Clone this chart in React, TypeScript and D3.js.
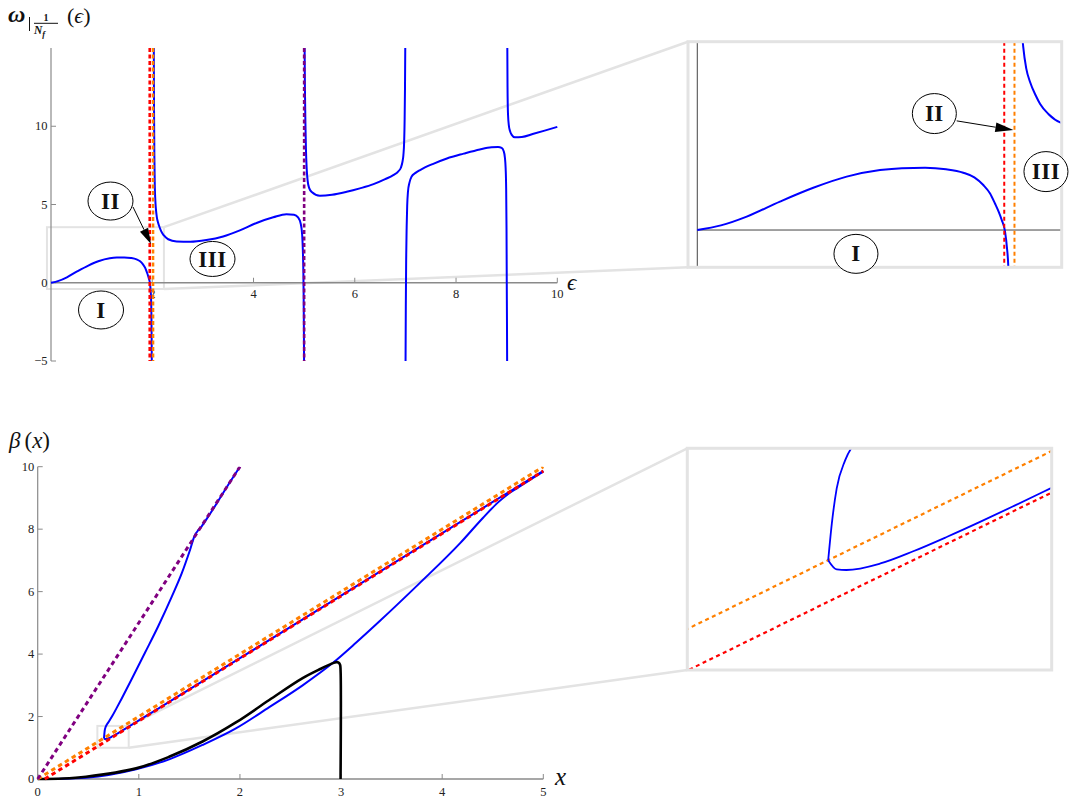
import React from 'react';
import * as d3 from 'd3';

type Pt = [number, number];

// ω(ε) sampled along each branch, split at the poles
const omegaBranch1: Pt[] = [
  [0, 0], [0.15, 0.12], [0.314, 0.35], [0.525, 0.74], [0.737, 1.1], [0.949, 1.39],
  [1.161, 1.56], [1.3, 1.61], [1.447, 1.62], [1.58, 1.58], [1.69, 1.49], [1.76, 1.37],
  [1.817, 1.17], [1.86, 0.95], [1.891, 0.69], [1.915, 0.47], [1.934, 0.26], [1.955, -0.04],
  [1.967, -0.45], [1.976, -0.97], [1.983, -2.0], [1.988, -3.5], [1.992, -5.5],
];
const omegaBranch2: Pt[] = [
  [2.03, 15.5], [2.035, 11], [2.042, 8], [2.05, 6.2], [2.06, 5.3], [2.071, 4.75], [2.09, 4.2],
  [2.114, 3.85], [2.15, 3.5], [2.178, 3.28], [2.23, 3.02], [2.315, 2.78], [2.48, 2.64],
  [2.75, 2.62], [3.07, 2.73], [3.4, 2.96], [3.73, 3.35], [4.06, 3.82], [4.39, 4.18],
  [4.65, 4.38], [4.8, 4.35], [4.88, 4.18], [4.93, 3.8], [4.96, 3.1], [4.975, 2.0],
  [4.985, 0.6], [4.99, -0.8], [4.995, -3], [4.999, -5.5],
];
const omegaBranch3: Pt[] = [
  [5.008, 15.5], [5.015, 12.5], [5.025, 10.2], [5.035, 8.6], [5.05, 7.3], [5.07, 6.5],
  [5.1, 6.05], [5.15, 5.8], [5.31, 5.56], [5.55, 5.62], [5.84, 5.81], [6.1, 6.03],
  [6.37, 6.3], [6.6, 6.62], [6.76, 6.88], [6.86, 7.12], [6.91, 7.35], [6.94, 7.7],
  [6.96, 8.15], [6.975, 9.0], [6.985, 10.5], [6.992, 12.5], [6.998, 15.5],
];
const omegaBranch4: Pt[] = [
  [7.002, -5.5], [7.008, -1.5], [7.015, 1.5], [7.025, 3.6], [7.035, 4.9], [7.05, 5.8],
  [7.08, 6.4], [7.12, 6.77], [7.2, 7.02], [7.29, 7.2], [7.55, 7.6], [7.82, 7.94],
  [8.15, 8.25], [8.47, 8.52], [8.7, 8.66], [8.83, 8.68], [8.9, 8.62], [8.94, 8.42],
  [8.965, 8.0], [8.98, 7.3], [8.99, 6.0], [8.997, 3.5], [9.002, 0], [9.006, -2.5], [9.01, -5.5],
];
const omegaBranch5: Pt[] = [
  [9.012, 15.5], [9.017, 12.5], [9.026, 10.8], [9.045, 10.0], [9.066, 9.7], [9.1, 9.45],
  [9.16, 9.3], [9.3, 9.32], [9.53, 9.52], [9.75, 9.72], [10.0, 9.96],
];
const omegaBranches: Pt[][] = [omegaBranch1, omegaBranch2, omegaBranch3, omegaBranch4, omegaBranch5];

// vertical asymptotes in ε (red, orange, purple)
const epsAsymptotes: number[] = [1.95, 2.015, 5.0];

const epsTicks: number[] = [2, 4, 6, 8, 10];
const omegaTicks: number[] = [-5, 0, 5, 10];

// β(x): branches of the solution
const betaUpper: Pt[] = [
  [0.656, 1.312], [0.659, 1.436], [0.663, 1.554], [0.67, 1.649], [0.68, 1.72],
  [0.70, 1.82], [0.74, 2.03], [0.78, 2.27], [0.831, 2.58], [0.93, 3.2], [1.062, 4.05],
  [1.193, 4.9], [1.326, 5.84], [1.425, 6.59], [1.507, 7.34], [1.556, 7.82], [1.575, 7.91],
  [1.623, 8.1], [1.7, 8.47], [1.8, 8.98], [1.9, 9.5], [2.0, 10.0],
];
const betaLower: Pt[] = [
  [0.656, 1.312], [0.663, 1.281], [0.671, 1.279], [0.699, 1.301], [0.726, 1.342],
  [0.754, 1.391], [0.781, 1.441], [0.809, 1.495], [0.839, 1.554], [0.9, 1.675],
  [1.0, 1.874], [1.2, 2.272], [1.5, 2.871], [2.0, 3.87], [3.0, 5.87], [4.0, 7.87], [5.0, 9.87],
];
const betaRising: Pt[] = [
  [0, 0], [0.25, 0.008], [0.478, 0.04], [0.973, 0.31], [1.3, 0.63], [1.63, 1.09], [1.96, 1.62],
  [2.29, 2.3], [2.62, 3.0], [2.92, 3.72], [3.15, 4.37], [3.38, 5.05], [3.78, 6.28],
  [4.18, 7.56], [4.4, 8.35], [4.55, 8.85], [4.65, 9.12], [4.75, 9.33], [4.85, 9.54], [5.0, 9.84],
];
const betaBlack: Pt[] = [
  [0, 0], [0.25, 0.015], [0.478, 0.074], [0.973, 0.34], [1.3, 0.71], [1.63, 1.2], [1.96, 1.81],
  [2.29, 2.53], [2.62, 3.23], [2.8, 3.53], [2.92, 3.71], [2.95, 3.74], [2.975, 3.73],
  [2.99, 3.66], [2.995, 3.5], [2.995, 0],
];
const purpleLine: Pt[] = [[0, 0], [2, 10]];
const orangeLine: Pt[] = [[0, 0], [5, 10]];
const redLine: Pt[] = [[0.07, 0], [5, 9.86]];

const xTicks: number[] = [0, 1, 2, 3, 4, 5];
const betaTicks: number[] = [0, 2, 4, 6, 8, 10];

// zoom windows (data units)
const topZoomEps: number[] = [-0.08, 2.23];
const topZoomOmega: number[] = [-0.4, 3.55];
const botZoomX: number[] = [0.59, 0.9];
const botZoomBeta: number[] = [1.0, 1.7];

const SERIF = 'Liberation Serif, DejaVu Serif, serif';
const BLUE = '#0000ff';
const RED = '#ff0000';
const ORANGE = '#ff8000';
const PURPLE = '#800080';
const AXIS = '#8a8a8a';
const FRAME = '#e3e3e3';
const asymptoteColors = [RED, ORANGE, PURPLE];

function Arrow({ x1, y1, x2, y2, len = 16, half = 4.5 }: { x1: number; y1: number; x2: number; y2: number; len?: number; half?: number }) {
  const a = Math.atan2(y2 - y1, x2 - x1);
  const bx = x2 - len * Math.cos(a);
  const by = y2 - len * Math.sin(a);
  const px = -Math.sin(a) * half;
  const py = Math.cos(a) * half;
  return (
    <g>
      <line x1={x1} y1={y1} x2={bx} y2={by} stroke="#000" strokeWidth={1} />
      <polygon points={`${x2},${y2} ${bx + px},${by + py} ${bx - px},${by - py}`} fill="#000" />
    </g>
  );
}

function Badge({ cx, cy, label, rx = 22.5, ry = 19 }: { cx: number; cy: number; label: string; rx?: number; ry?: number }) {
  return (
    <g>
      <ellipse cx={cx} cy={cy} rx={rx} ry={ry} fill="#fff" stroke="#000" strokeWidth={1} />
      <text x={cx} y={cy + 7.6} textAnchor="middle" fontFamily={SERIF} fontWeight="bold" fontSize={23} letterSpacing={0.5} fill="#111">
        {label}
      </text>
    </g>
  );
}

export default function App() {
  const topX = d3.scaleLinear().domain([0, 10]).range([51, 557.3]);
  const topY = d3.scaleLinear().domain([-5, 15]).range([361, 48]);
  const tiX = d3.scaleLinear().domain([-0.059, 2.315]).range([688, 1061.7]);
  const tiY = d3.scaleLinear().domain([-0.97, 4.9]).range([267.3, 41.7]);
  const bX = d3.scaleLinear().domain([0, 5]).range([37.7, 543.3]);
  const bY = d3.scaleLinear().domain([0, 10]).range([779, 466.7]);
  const biX = d3.scaleLinear().domain([0.54, 0.84]).range([687.3, 1051.7]);
  const biY = d3.scaleLinear().domain([0.942, 1.689]).range([670, 448.3]);

  const mk = (sx: d3.ScaleLinear<number, number>, sy: d3.ScaleLinear<number, number>, curve: d3.CurveFactory) =>
    d3.line<Pt>().x((d) => sx(d[0])).y((d) => sy(d[1])).curve(curve);

  const topLine = mk(topX, topY, d3.curveMonotoneX);
  const tiLine = mk(tiX, tiY, d3.curveMonotoneX);
  const bLine = mk(bX, bY, d3.curveMonotoneX);
  const bLin = mk(bX, bY, d3.curveLinear);
  const bBlack = mk(bX, bY, d3.curveCatmullRom.alpha(0.5));
  const biLine = mk(biX, biY, d3.curveMonotoneX);
  const biLin = mk(biX, biY, d3.curveLinear);

  const [tiX0, tiX1] = tiX.range();
  const [tiY0, tiY1] = tiY.range();
  const [biX0, biX1] = biX.range();
  const [biY0, biY1] = biY.range();

  const tickFont = { fontFamily: SERIF, fontSize: 12.5, fill: '#222' } as const;

  // zoom rectangles in pixel space
  const tzx0 = topX(topZoomEps[0]), tzx1 = topX(topZoomEps[1]);
  const tzy0 = topY(topZoomOmega[1]), tzy1 = topY(topZoomOmega[0]);
  const bzx0 = bX(botZoomX[0]), bzx1 = bX(botZoomX[1]);
  const bzy0 = bY(botZoomBeta[1]), bzy1 = bY(botZoomBeta[0]);

  return (
    <svg width={1070} height={800} style={{ position: 'absolute', left: 0, top: 0, background: '#fff' }}>
      <defs>
        <clipPath id="clipTop"><rect x={45} y={topY(15)} width={topX(10) - 45 + 2} height={topY(-5) - topY(15)} /></clipPath>
        <clipPath id="clipTopInset"><rect x={tiX0} y={tiY1} width={tiX1 - tiX0} height={tiY0 - tiY1} /></clipPath>
        <clipPath id="clipBot"><rect x={30} y={bY(10)} width={bX(5) - 30 + 2} height={bY(0) - bY(10) + 2} /></clipPath>
        <clipPath id="clipBotInset"><rect x={biX0} y={biY1} width={biX1 - biX0} height={biY0 - biY1} /></clipPath>
      </defs>

      {/* ================= top panel: ω(ε) ================= */}
      {/* zoom connectors */}
      <line x1={tzx1} y1={tzy0} x2={tiX0} y2={tiY1} stroke={FRAME} strokeWidth={2.5} />
      <line x1={tzx1} y1={tzy1} x2={tiX0} y2={tiY0} stroke={FRAME} strokeWidth={2.5} />
      <rect x={tzx0} y={tzy0} width={tzx1 - tzx0} height={tzy1 - tzy0} fill="none" stroke={FRAME} strokeWidth={2} />

      {/* axes */}
      <line x1={topX(0)} y1={topY(15)} x2={topX(0)} y2={topY(-5)} stroke={AXIS} strokeWidth={1.2} />
      <line x1={topX(0)} y1={topY(0)} x2={topX(10)} y2={topY(0)} stroke={AXIS} strokeWidth={1.5} />
      {omegaTicks.map((t) => (
        <g key={`oy${t}`}>
          <line x1={topX(0)} y1={topY(t)} x2={topX(0) + 5} y2={topY(t)} stroke={AXIS} strokeWidth={1} />
          <text x={topX(0) - 3.5} y={topY(t) + 4.2} textAnchor="end" {...tickFont}>{t < 0 ? `\u2212${-t}` : t}</text>
        </g>
      ))}
      {epsTicks.map((t) => (
        <g key={`ex${t}`}>
          <line x1={topX(t)} y1={topY(0)} x2={topX(t)} y2={topY(0) - 5} stroke={AXIS} strokeWidth={1} />
          <text x={topX(t)} y={topY(0) + 15.5} textAnchor="middle" {...tickFont}>{t}</text>
        </g>
      ))}

      <g clipPath="url(#clipTop)">
        {omegaBranches.map((b, i) => (
          <path key={`ob${i}`} d={topLine(b) ?? ''} fill="none" stroke={BLUE} strokeWidth={2} />
        ))}
        {epsAsymptotes.map((e, i) => (
          <line key={`as${i}`} x1={topX(e)} y1={topY(15)} x2={topX(e)} y2={topY(-5)} stroke={asymptoteColors[i]} strokeWidth={2.6} strokeDasharray="4 2.5" />
        ))}
      </g>

      {/* axis titles */}
      <text x={8} y={22} fontFamily={SERIF} fontSize={24} fontWeight="bold" fontStyle="italic" fill="#111">ω</text>
      <line x1={29.5} y1={17} x2={29.5} y2={31} stroke="#111" strokeWidth={1} />
      <text x={46} y={21} textAnchor="middle" fontFamily={SERIF} fontSize={10} fontWeight="bold" fill="#111">1</text>
      <line x1={34} y1={23.3} x2={58} y2={23.3} stroke="#111" strokeWidth={1} />
      <text x={34} y={34} fontFamily={SERIF} fontSize={11.5} fontWeight="bold" fontStyle="italic" fill="#111">
        N<tspan fontSize={8.5} dy={2.5}>f</tspan>
      </text>
      <text x={67} y={23} fontFamily={SERIF} fontSize={22} fill="#111">
        (<tspan fontStyle="italic">ϵ</tspan>)
      </text>
      <text x={567} y={290} fontFamily={SERIF} fontSize={23} fontStyle="italic" fill="#111">ϵ</text>

      {/* annotations */}
      <Badge cx={topX(1.175)} cy={topY(5.22)} label="II" />
      <Arrow x1={topX(1.62)} y1={topY(4.84)} x2={topX(1.975)} y2={topY(2.47)} />
      <Badge cx={topX(3.19)} cy={topY(1.52)} label="III" ry={17.5} />
      <Badge cx={topX(0.988)} cy={topY(-1.74)} label="I" />

      {/* ---- top inset ---- */}
      <line x1={tiX(0)} y1={tiY1} x2={tiX(0)} y2={tiY0} stroke="#444" strokeWidth={1} />
      <line x1={tiX(0)} y1={tiY(0)} x2={tiX1} y2={tiY(0)} stroke="#444" strokeWidth={1} />
      <g clipPath="url(#clipTopInset)">
        {omegaBranches.map((b, i) => (
          <path key={`tib${i}`} d={tiLine(b) ?? ''} fill="none" stroke={BLUE} strokeWidth={2} />
        ))}
        {epsAsymptotes.map((e, i) => (
          <line key={`tia${i}`} x1={tiX(e)} y1={tiY1} x2={tiX(e)} y2={tiY0} stroke={asymptoteColors[i]} strokeWidth={2} strokeDasharray="4 3" />
        ))}
      </g>
      <rect x={tiX0} y={tiY1} width={tiX1 - tiX0} height={tiY0 - tiY1} fill="none" stroke={FRAME} strokeWidth={3} />
      <Badge cx={tiX(1.506)} cy={tiY(3.03)} label="II" rx={22} ry={20} />
      <Arrow x1={tiX(1.648)} y1={tiY(2.84)} x2={tiX(2.008)} y2={tiY(2.6)} len={18} half={4.8} />
      <Badge cx={tiX(2.215)} cy={tiY(1.52)} label="III" rx={22} ry={20} />
      <Badge cx={tiX(1.008)} cy={tiY(-0.62)} label="I" rx={22} ry={19.5} />

      {/* ================= bottom panel: β(x) ================= */}
      <line x1={bzx1} y1={bzy0} x2={biX0} y2={biY1} stroke={FRAME} strokeWidth={2.5} />
      <line x1={bzx1} y1={bzy1} x2={biX0} y2={biY0} stroke={FRAME} strokeWidth={2.5} />
      <rect x={bzx0} y={bzy0} width={bzx1 - bzx0} height={bzy1 - bzy0} fill="none" stroke={FRAME} strokeWidth={2} />

      <line x1={bX(0)} y1={bY(10)} x2={bX(0)} y2={bY(0)} stroke={AXIS} strokeWidth={1.2} />
      <line x1={bX(0)} y1={bY(0)} x2={bX(5)} y2={bY(0)} stroke={AXIS} strokeWidth={1.5} />
      {betaTicks.map((t) => (
        <g key={`by${t}`}>
          <line x1={bX(0)} y1={bY(t)} x2={bX(0) + 5} y2={bY(t)} stroke={AXIS} strokeWidth={1} />
          <text x={bX(0) - 3.5} y={bY(t) + 4.2} textAnchor="end" {...tickFont}>{t}</text>
        </g>
      ))}
      {xTicks.map((t) => (
        <g key={`bx${t}`}>
          <line x1={bX(t)} y1={bY(0)} x2={bX(t)} y2={bY(0) - 5} stroke={AXIS} strokeWidth={1} />
          <text x={bX(t)} y={bY(0) + 16.5} textAnchor="middle" {...tickFont}>{t}</text>
        </g>
      ))}

      <g clipPath="url(#clipBot)">
        <path d={bLine(betaRising) ?? ''} fill="none" stroke={BLUE} strokeWidth={2} />
        <path d={bLine(betaLower) ?? ''} fill="none" stroke={BLUE} strokeWidth={2} />
        <path d={bLine(betaUpper) ?? ''} fill="none" stroke={BLUE} strokeWidth={2} />
        <path d={bBlack(betaBlack) ?? ''} fill="none" stroke="#000" strokeWidth={2.6} />
        <path d={bLin(redLine) ?? ''} fill="none" stroke={RED} strokeWidth={3} strokeDasharray="4.5 3.5" />
        <path d={bLin(orangeLine) ?? ''} fill="none" stroke={ORANGE} strokeWidth={3} strokeDasharray="4.5 3.5" />
        <path d={bLin(purpleLine) ?? ''} fill="none" stroke={PURPLE} strokeWidth={3} strokeDasharray="4.5 3.5" />
      </g>

      <text x={9} y={448} fontFamily={SERIF} fontSize={23} fill="#111">
        <tspan fontStyle="italic">β</tspan>
        <tspan dx={4}>(</tspan>
        <tspan fontStyle="italic">x</tspan>
        <tspan>)</tspan>
      </text>
      <text x={555} y={785} fontFamily={SERIF} fontSize={25} fontStyle="italic" fill="#111">x</text>

      {/* ---- bottom inset ---- */}
      <g clipPath="url(#clipBotInset)">
        <path d={biLin(orangeLine) ?? ''} fill="none" stroke={ORANGE} strokeWidth={2.2} strokeDasharray="4 3.5" />
        <path d={biLin(redLine) ?? ''} fill="none" stroke={RED} strokeWidth={2.2} strokeDasharray="4 3.5" />
        <path d={biLine(betaUpper) ?? ''} fill="none" stroke={BLUE} strokeWidth={1.8} />
        <path d={biLine(betaLower) ?? ''} fill="none" stroke={BLUE} strokeWidth={1.8} />
      </g>
      <rect x={biX0} y={biY1} width={biX1 - biX0} height={biY0 - biY1} fill="none" stroke={FRAME} strokeWidth={3} />
    </svg>
  );
}
